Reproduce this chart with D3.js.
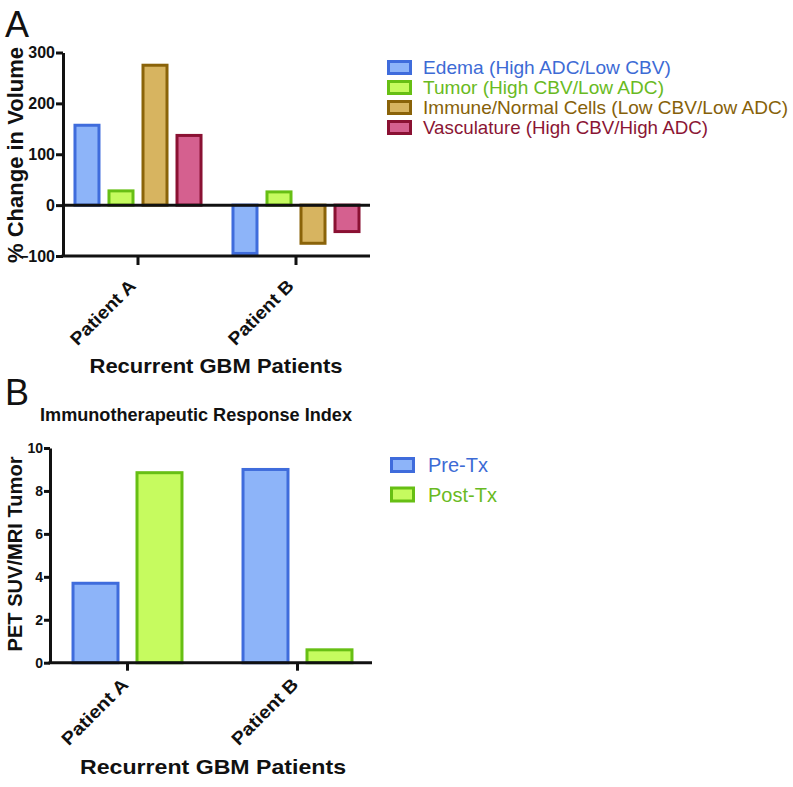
<!DOCTYPE html>
<html>
<head>
<meta charset="utf-8">
<script src="https://cdn.jsdelivr.net/npm/d3@7"></script>
<style>
  html, body { margin: 0; padding: 0; background: #fff; }
  svg text { font-family: Arial, "Liberation Sans", Helvetica, sans-serif; }
</style>
</head>
<body>
<svg id="chart" width="793" height="787"></svg>
<script>
// ---------- Data ----------
const patients = ["Patient A", "Patient B"];

// Panel A: % change in volume
const seriesA = [
  "Edema (High ADC/Low CBV)",
  "Tumor (High CBV/Low ADC)",
  "Immune/Normal Cells (Low CBV/Low ADC)",
  "Vasculature (High CBV/High ADC)"
];
const edemaValues = [157, -95];
const tumorValues = [28, 26];
const immuneValues = [275, -75];
const vascValues = [137, -52];
const ticksA = [-100, 0, 100, 200, 300];

// Panel B: PET SUV / MRI tumor
const seriesB = ["Pre-Tx", "Post-Tx"];
const preTxValues = [3.7, 9.0];
const postTxValues = [8.85, 0.6];
const ticksB = [0, 2, 4, 6, 8, 10];

// ---------- Styles ----------
const fills   = ["#8db4f9", "#c6fb5f", "#d7b460", "#d5608f"];
const strokes = ["#3f6cdc", "#67bf14", "#8a6309", "#8a1133"];
const textCol = ["#3d6bd5", "#69ba22", "#866109", "#8a1534"];

const svg = d3.select("#chart");

function fitText(sel, len) {
  sel.attr("textLength", len).attr("lengthAdjust", "spacingAndGlyphs");
}

function styleAxis(g, fs) {
  g.selectAll("path.domain").attr("stroke", "#111").attr("stroke-width", 3);
  g.selectAll(".tick line").attr("stroke", "#111").attr("stroke-width", 3);
  g.selectAll(".tick text")
    .attr("fill", "#111")
    .style("font-size", fs + "px")
    .style("font-weight", "bold")
    .style("font-family", "Arial, 'Liberation Sans', Helvetica, sans-serif");
}

// ================= Panel A =================
{
  const valuesBySeries = [edemaValues, tumorValues, immuneValues, vascValues];
  const x0 = d3.scaleBand().domain(patients).range([59, 375]);
  const x1 = d3.scaleBand().domain(seriesA).range([0, x0.bandwidth()])
    .paddingInner(0.294).paddingOuter(0.47);
  const y = d3.scaleLinear().domain([-100, 300]).range([256, 52.5]);
  const axisLeftX = 63, axisRightX = 370;

  svg.append("text").attr("x", 5).attr("y", 37)
    .style("font-size", "36px").attr("fill", "#111").text("A");

  // bars
  const g = svg.append("g");
  seriesA.forEach((s, si) => {
    g.selectAll(null).data(patients).enter().append("rect")
      .attr("x", d => x0(d) + x1(s))
      .attr("width", x1.bandwidth())
      .attr("y", (d, i) => y(Math.max(0, valuesBySeries[si][i])))
      .attr("height", (d, i) => Math.abs(y(valuesBySeries[si][i]) - y(0)))
      .attr("fill", fills[si]).attr("stroke", strokes[si]).attr("stroke-width", 3);
  });

  // zero line
  svg.append("line").attr("x1", axisLeftX).attr("x2", axisRightX)
    .attr("y1", y(0)).attr("y2", y(0)).attr("stroke", "#111").attr("stroke-width", 3);

  // y axis
  const gy = svg.append("g").attr("transform", `translate(${axisLeftX},0)`)
    .call(d3.axisLeft(y).tickValues(ticksA).tickSize(7).tickPadding(1).tickSizeOuter(0));
  styleAxis(gy, 16);

  // x axis at -100
  const xs = d3.scalePoint().domain(patients).range([x0("Patient A") + x0.bandwidth()/2, x0("Patient B") + x0.bandwidth()/2]);
  const gx = svg.append("g").attr("transform", `translate(0,${y(-100)})`);
  gx.append("line").attr("x1", axisLeftX - 1.5).attr("x2", axisRightX)
    .attr("stroke", "#111").attr("stroke-width", 3);
  patients.forEach(p => {
    gx.append("line").attr("x1", xs(p)).attr("x2", xs(p)).attr("y1", 0).attr("y2", 9)
      .attr("stroke", "#111").attr("stroke-width", 3);
    gx.append("text")
      .attr("transform", `translate(${xs(p) - 1},${31}) rotate(-45)`)
      .attr("text-anchor", "end").style("font-size", "18px").style("font-weight", "bold")
      .attr("fill", "#111").text(p)
      .call(fitText, 84);
  });

  // axis titles
  svg.append("text")
    .attr("transform", `translate(23,155) rotate(-90)`)
    .attr("text-anchor", "middle").style("font-size", "22px").style("font-weight", "bold")
    .attr("fill", "#111").text("% Change in Volume")
    .call(fitText, 216);
  svg.append("text").attr("x", 216).attr("y", 373)
    .attr("text-anchor", "middle").style("font-size", "21px").style("font-weight", "bold")
    .attr("fill", "#111").text("Recurrent GBM Patients")
    .call(fitText, 253);

  // legend
  const legendWidths = [248, 241, 365, 285];
  const leg = svg.append("g");
  seriesA.forEach((s, i) => {
    const cy = 67.5 + i * 20;
    leg.append("rect").attr("x", 388.5).attr("y", cy - 6).attr("width", 22).attr("height", 12)
      .attr("fill", fills[i]).attr("stroke", strokes[i]).attr("stroke-width", 3);
    leg.append("text").attr("x", 423).attr("y", cy + 6.5)
      .style("font-size", "19px").attr("fill", textCol[i]).text(s)
      .call(fitText, legendWidths[i]);
  });
}

// ================= Panel B =================
{
  const valuesBySeries = [preTxValues, postTxValues];
  const x0 = d3.scaleBand().domain(patients).range([42.5, 382.5]);
  const x1 = d3.scaleBand().domain(seriesB).range([0, x0.bandwidth()])
    .paddingInner(0.297).paddingOuter(0.477);
  const y = d3.scaleLinear().domain([0, 10]).range([662.7, 448]);
  const axisLeftX = 50, axisRightX = 372;

  svg.append("text").attr("x", 5).attr("y", 405)
    .style("font-size", "36px").attr("fill", "#111").text("B");

  svg.append("text").attr("x", 40).attr("y", 421)
    .style("font-size", "19px").style("font-weight", "bold")
    .attr("fill", "#111").text("Immunotherapeutic Response Index")
    .call(fitText, 312);

  const g = svg.append("g");
  seriesB.forEach((s, si) => {
    g.selectAll(null).data(patients).enter().append("rect")
      .attr("x", d => x0(d) + x1(s))
      .attr("width", x1.bandwidth())
      .attr("y", (d, i) => y(valuesBySeries[si][i]))
      .attr("height", (d, i) => y(0) - y(valuesBySeries[si][i]))
      .attr("fill", fills[si]).attr("stroke", strokes[si]).attr("stroke-width", 3);
  });

  const gy = svg.append("g").attr("transform", `translate(${axisLeftX},0)`)
    .call(d3.axisLeft(y).tickValues(ticksB).tickSize(6).tickPadding(1).tickSizeOuter(0));
  styleAxis(gy, 14);

  const xs = d3.scalePoint().domain(patients).range([x0("Patient A") + x0.bandwidth()/2, x0("Patient B") + x0.bandwidth()/2]);
  const gx = svg.append("g").attr("transform", `translate(0,${y(0)})`);
  gx.append("line").attr("x1", axisLeftX - 1.5).attr("x2", axisRightX)
    .attr("stroke", "#111").attr("stroke-width", 3);
  patients.forEach(p => {
    gx.append("line").attr("x1", xs(p)).attr("x2", xs(p)).attr("y1", 0).attr("y2", 8)
      .attr("stroke", "#111").attr("stroke-width", 3);
    gx.append("text")
      .attr("transform", `translate(${xs(p) + 2},${23}) rotate(-45)`)
      .attr("text-anchor", "end").style("font-size", "18px").style("font-weight", "bold")
      .attr("fill", "#111").text(p)
      .call(fitText, 86);
  });

  svg.append("text")
    .attr("transform", `translate(22,554) rotate(-90)`)
    .attr("text-anchor", "middle").style("font-size", "21px").style("font-weight", "bold")
    .attr("fill", "#111").text("PET SUV/MRI Tumor")
    .call(fitText, 195);
  svg.append("text").attr("x", 213).attr("y", 774)
    .attr("text-anchor", "middle").style("font-size", "21px").style("font-weight", "bold")
    .attr("fill", "#111").text("Recurrent GBM Patients")
    .call(fitText, 266);

  const legendWidths = [60, 69];
  const leg = svg.append("g");
  seriesB.forEach((s, i) => {
    const cy = 465 + i * 29.5;
    leg.append("rect").attr("x", 391.5).attr("y", cy - 6.5).attr("width", 22).attr("height", 13)
      .attr("fill", fills[i]).attr("stroke", strokes[i]).attr("stroke-width", 3);
    leg.append("text").attr("x", 428).attr("y", cy + 7)
      .style("font-size", "20px").attr("fill", textCol[i]).text(s)
      .call(fitText, legendWidths[i]);
  });
}
</script>
</body>
</html>
